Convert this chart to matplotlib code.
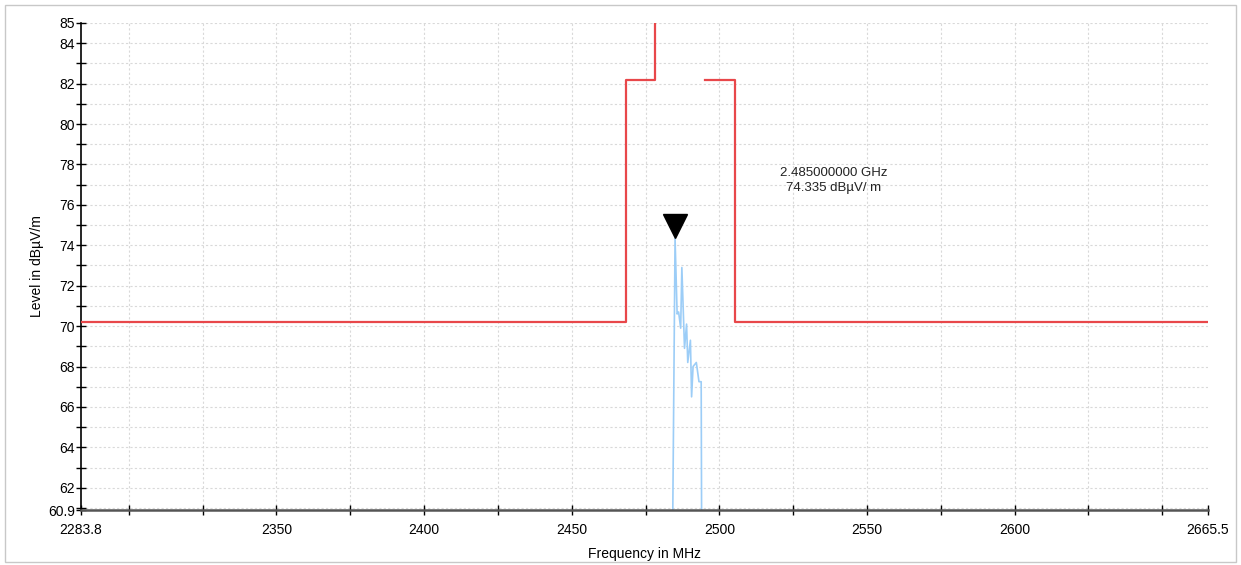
import numpy as np
import matplotlib
matplotlib.use("Agg")
import matplotlib.pyplot as plt
from matplotlib.patches import Rectangle
from matplotlib.transforms import ScaledTranslation

plt.rcParams['font.family'] = ['Liberation Sans', 'DejaVu Sans']

# ---- data ----
limit_freq = [2283.8, 2468.4, 2468.4, 2478.2, 2478.2, np.nan, 2495.1, 2505.3, 2505.3, 2665.5]
limit_level = [70.2, 70.2, 82.2, 82.2, 95.0, np.nan, 82.2, 82.2, 70.2, 70.2]

trace_freq = [2483.9, 2485.0, 2485.7, 2486.2, 2486.9, 2487.3, 2488.2, 2488.9, 2489.3,
              2490.2, 2490.6, 2491.1, 2492.2, 2493.1, 2493.85, 2494.1]
trace_level = [55.0, 74.335, 70.6, 70.7, 69.9, 72.9, 68.9, 70.1, 68.2,
               69.3, 66.5, 68.0, 68.2, 67.25, 67.25, 55.0]

marker_freq = 2485.0
marker_level = 74.335

x_min, x_max = 2283.8, 2665.5
y_min, y_max = 60.9, 85.0
x_labeled = [2283.8, 2350, 2400, 2450, 2500, 2550, 2600, 2665.5]
x_grid = [2300, 2325, 2350, 2375, 2400, 2425, 2450, 2475, 2500, 2525, 2550, 2575, 2600, 2625, 2650]
y_labeled = [60.9, 62, 64, 66, 68, 70, 72, 74, 76, 78, 80, 82, 84, 85]
y_grid = list(range(61, 86))

# ---- figure ----
fig = plt.figure(figsize=(12.41, 5.65), dpi=100)
fig.patches.append(Rectangle((5/1241, 3/565), 1231/1241, 557/565, transform=fig.transFigure,
                             fill=False, edgecolor='#c8c8c8', linewidth=1.0))
ax = fig.add_axes([81/1241, 55/565, 1127/1241, 487/565])
ax.set_xlim(x_min, x_max)
ax.set_ylim(y_min, y_max)

for xv in x_grid:
    ax.axvline(xv, color='#d9d9d9', linestyle=(0, (2, 2)), linewidth=0.8, zorder=0)
for yv in y_grid:
    ax.axhline(yv, color='#d9d9d9', linestyle=(0, (2, 2)), linewidth=0.8, zorder=0)

ax.plot(limit_freq, limit_level, color='#e8474a', linewidth=1.6, zorder=3)
ax.plot(trace_freq, trace_level, color='#9ccdf7', linewidth=1.2, zorder=2)

off = ScaledTranslation(0, 9/72, fig.dpi_scale_trans)
ax.plot([marker_freq], [marker_level], marker='v', markersize=17, color='black',
        linestyle='none', transform=ax.transData + off, zorder=5, clip_on=False)

ax.text(2538.8, 77.2, "2.485000000 GHz\n74.335 dBµV/ m", fontsize=9.5,
        ha='center', va='center', color='#222222', linespacing=1.3,
        transform=ax.transData)

# ticks
ax.set_xticks(x_labeled)
ax.set_xticklabels(['2283.8', '2350', '2400', '2450', '2500', '2550', '2600', '2665.5'])
ax.set_xticks([v for v in x_grid if v not in x_labeled], minor=True)
ax.set_yticks(y_labeled)
ax.set_yticklabels(['60.9'] + [str(v) for v in y_labeled[1:]])
ax.set_yticks([v for v in y_grid if v not in y_labeled], minor=True)
ax.tick_params(axis='both', which='both', direction='inout', length=7, width=1.0,
               labelsize=10, colors='black')
ax.tick_params(axis='x', which='both', pad=6)
ax.tick_params(axis='y', which='both', pad=1)

for s in ['top', 'right']:
    ax.spines[s].set_visible(False)
ax.spines['left'].set_linewidth(1.2)
ax.spines['bottom'].set_linewidth(1.8)
ax.spines['bottom'].set_color('#555555')

ax.set_xlabel('Frequency in MHz', fontsize=10, labelpad=7)
ax.set_ylabel('Level in dBµV/m', fontsize=10, labelpad=3)

fig.savefig('out.png', dpi=100)
